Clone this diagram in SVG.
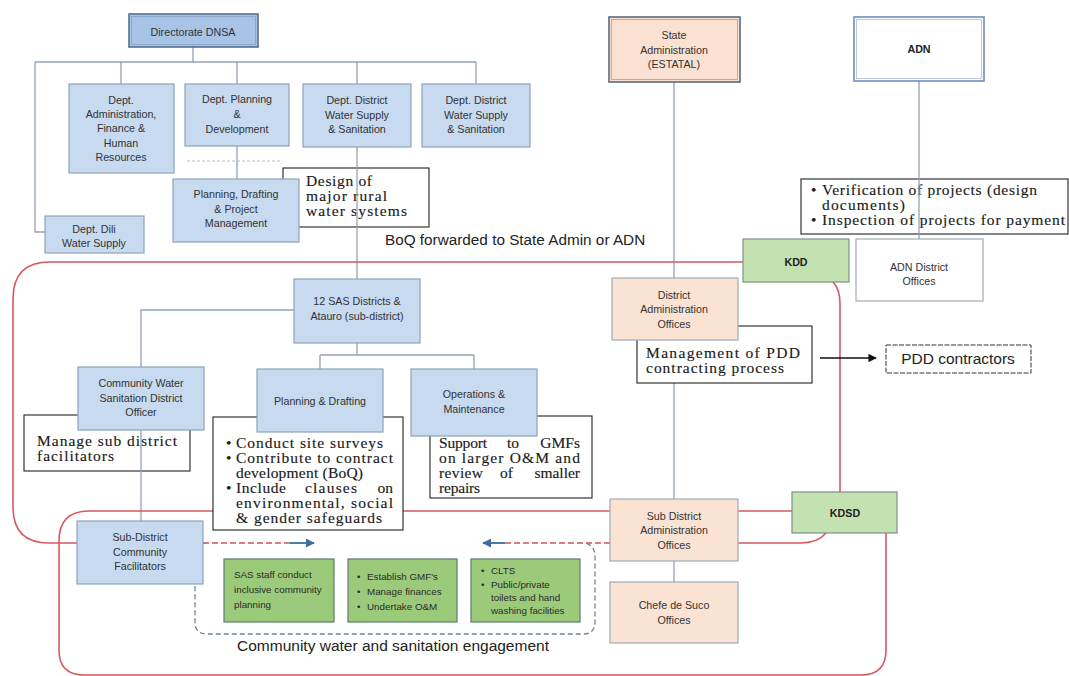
<svg xmlns="http://www.w3.org/2000/svg" width="1069" height="676" viewBox="0 0 1069 676">
  <defs>
    <style>
      .lbl { font-family: "Liberation Sans", Arial, sans-serif; font-size: 10.7px; fill: #333; text-anchor: middle; }
      .bold { font-weight: bold; fill: #222; }
      .sm { font-family: "Liberation Sans", Arial, sans-serif; font-size: 9.8px; fill: #2a2a2a; }
      .big { font-family: "Liberation Sans", Arial, sans-serif; font-size: 15.3px; fill: #222; }
      .serif { font-family: "Liberation Serif", "Times New Roman", serif; font-size: 15.5px; fill: #1a1a1a; stroke: #1a1a1a; stroke-width: 0.15; }
      .blue { fill: #c7daef; stroke: #8ea2b8; stroke-width: 1.2; }
      .peach { fill: #fbe3d4; stroke: #9eabb9; stroke-width: 1.2; }
      .kd { fill: #c4e1b1; stroke: #7f9089; stroke-width: 1.2; }
      .grn { fill: #9bcb7a; stroke: #5e7a6c; stroke-width: 1.2; }
      .white { fill: #fff; stroke: #a3abb3; stroke-width: 1.2; }
      .note { fill: #fff; stroke: #222; stroke-width: 1.1; }
      .conn { fill: none; stroke: #95a3b2; stroke-width: 1.3; }
      .red { fill: none; stroke: #d65a5e; stroke-width: 1.6; }
      .reddash { fill: none; stroke: #e07a7c; stroke-width: 1.8; stroke-dasharray: 6 3; }
      .arrowb { fill: none; stroke: #3b6ea6; stroke-width: 1.8; }
    </style>
    <marker id="tipBlue" viewBox="0 0 10 10" refX="9" refY="5" markerWidth="5" markerHeight="5" orient="auto">
      <path d="M0,0 L10,5 L0,10 z" fill="#3b6ea6"/>
    </marker>
    <marker id="tipBlack" viewBox="0 0 10 10" refX="9" refY="5" markerWidth="6" markerHeight="6" orient="auto">
      <path d="M0,0 L10,5 L0,10 z" fill="#111"/>
    </marker>
  </defs>

  <rect width="1069" height="676" fill="#fff"/>

  <!-- callout boxes sitting under the connector lines -->
  <g id="note-design">
    <rect class="note" x="283" y="168" width="146" height="59"/>
    <text class="serif" x="306" y="186" textLength="66" lengthAdjust="spacing">Design of</text>
    <text class="serif" x="306" y="201" textLength="81" lengthAdjust="spacing">major rural</text>
    <text class="serif" x="306" y="216" textLength="101" lengthAdjust="spacing">water systems</text>
  </g>
  <g id="note-manage">
    <rect class="note" x="24" y="415" width="166" height="56"/>
    <text class="serif" x="37" y="446" textLength="140" lengthAdjust="spacing">Manage sub district</text>
    <text class="serif" x="37" y="461" textLength="77" lengthAdjust="spacing">facilitators</text>
  </g>
  <g id="note-verification">
    <rect class="note" x="801" y="179" width="267" height="55"/>
    <text class="serif" x="811" y="195">•</text>
    <text class="serif" x="822" y="195" textLength="215" lengthAdjust="spacing">Verification of projects (design</text>
    <text class="serif" x="822" y="210" textLength="83" lengthAdjust="spacing">documents)</text>
    <text class="serif" x="811" y="225">•</text>
    <text class="serif" x="822" y="225" textLength="243" lengthAdjust="spacing">Inspection of projects for payment</text>
  </g>

  <!-- connectors -->
  <g id="connectors">
    <!-- DNSA hierarchy -->
    <path class="conn" d="M193,47 V62 M35,62 H476 M121,62 V84 M237,62 V84 M357,62 V84 M476,62 V84"/>
    <path class="conn" d="M35,62 V232 H45"/>
    <path class="conn" d="M237,146 V179"/>
    <path d="M187,161 H280" fill="none" stroke="#b8bfc6" stroke-width="1.2" stroke-dasharray="3 2"/>
    <path class="conn" d="M357,147 V279"/>
    <!-- district level -->
    <path class="conn" d="M294,310 H141 V367"/>
    <path class="conn" d="M357,343 V355 M320,355 H474 M320,355 V369 M474,355 V369"/>
    <path class="conn" d="M141,430 V521"/>
    <!-- administration line -->
    <path class="conn" d="M674,82 V278 M674,340 V499 M674,561 V582"/>
    <path class="conn" d="M919,81 V239"/>

    <!-- coordination loops -->
    <path class="red" d="M743,262 H50 Q13,262 13,299 V507 Q13,543 49,543 H77"/>
    <path class="red" d="M833,282 Q840,289 840,304 V492"/>
    <path class="red" d="M792,511 H738 M610,511 H89 Q59,511 59,541 V650 Q59,675 84,675 H861 Q886,675 886,650 V533"/>
    <path class="red" d="M738,543 H800 Q818,543 826,533"/>
    <path class="reddash" d="M203,543 H290 M505,543 H610"/>
    <path class="arrowb" d="M290,543 H314" marker-end="url(#tipBlue)"/>
    <path class="arrowb" d="M505,543 H483" marker-end="url(#tipBlue)"/>

    <!-- engagement boundary -->
    <path d="M205,543 Q195,545 195,557 V622 Q195,634 207,634 H583 Q595,634 595,622 V557 Q595,545 585,543" fill="none" stroke="#71839a" stroke-width="1.3" stroke-dasharray="5 3"/>

    <!-- contracting -->
    <path d="M820,358 H876" fill="none" stroke="#111" stroke-width="1.4" marker-end="url(#tipBlack)"/>
  </g>

  <text class="big" x="385" y="245">BoQ forwarded to State Admin or ADN</text>
  <text class="big" x="393" y="651" text-anchor="middle" style="font-size:15.5px">Community water and sanitation engagement</text>

  <!-- callout boxes drawn over lines -->
  <g id="note-planning">
    <rect class="note" x="213" y="417" width="190" height="113"/>
    <text class="serif" x="226" y="448">•</text>
    <text class="serif" x="236" y="448" textLength="147" lengthAdjust="spacing">Conduct site surveys</text>
    <text class="serif" x="226" y="463">•</text>
    <text class="serif" x="236" y="463" textLength="157" lengthAdjust="spacing">Contribute to contract</text>
    <text class="serif" x="236" y="478" textLength="127" lengthAdjust="spacing">development (BoQ)</text>
    <text class="serif" x="226" y="493">•</text>
    <text class="serif" x="236" y="493" textLength="50" lengthAdjust="spacing">Include</text>
    <text class="serif" x="305" y="493" textLength="52" lengthAdjust="spacing">clauses</text>
    <text class="serif" x="393" y="493" text-anchor="end">on</text>
    <text class="serif" x="236" y="508" textLength="157" lengthAdjust="spacing">environmental, social</text>
    <text class="serif" x="236" y="523" textLength="146" lengthAdjust="spacing">&amp; gender safeguards</text>
  </g>
  <g id="note-om">
    <rect class="note" x="430" y="416" width="162" height="82"/>
    <text class="serif" x="439" y="448" textLength="48" lengthAdjust="spacing">Support</text>
    <text class="serif" x="507" y="448">to</text>
    <text class="serif" x="580" y="448" text-anchor="end">GMFs</text>
    <text class="serif" x="439" y="463" textLength="141" lengthAdjust="spacing">on larger O&amp;M and</text>
    <text class="serif" x="439" y="478" textLength="44" lengthAdjust="spacing">review</text>
    <text class="serif" x="500" y="478">of</text>
    <text class="serif" x="580" y="478" text-anchor="end">smaller</text>
    <text class="serif" x="439" y="493" textLength="41" lengthAdjust="spacing">repairs</text>
  </g>
  <g id="note-management">
    <rect class="note" x="637" y="326" width="175" height="57"/>
    <text class="serif" x="646" y="358" textLength="154" lengthAdjust="spacing">Management of PDD</text>
    <text class="serif" x="646" y="373" textLength="138" lengthAdjust="spacing">contracting process</text>
  </g>
  <g id="pdd-contractors">
    <rect x="886" y="345" width="145" height="28" fill="#fff" stroke="#333" stroke-width="1" stroke-dasharray="5 1.5"/>
    <text class="big" x="958" y="364" text-anchor="middle" style="font-size:15.5px">PDD contractors</text>
  </g>

  <!-- DNSA structure -->
  <g id="dnsa">
    <rect x="129" y="14" width="129" height="33" fill="#a7c3e5" stroke="#55708f" stroke-width="1.6"/>
    <rect x="131.5" y="16.5" width="124" height="28" fill="none" stroke="#86a3c6" stroke-width="0.8"/>
    <text class="lbl" x="193" y="36">Directorate DNSA</text>
  </g>
  <g id="dept-admin">
    <rect class="blue" x="69" y="84" width="105" height="89"/>
    <text class="lbl" x="121" y="104">Dept.</text>
    <text class="lbl" x="121" y="118">Administration,</text>
    <text class="lbl" x="121" y="132">Finance &amp;</text>
    <text class="lbl" x="121" y="147">Human</text>
    <text class="lbl" x="121" y="161">Resources</text>
  </g>
  <g id="dept-planning">
    <rect class="blue" x="185" y="84" width="104" height="62"/>
    <text class="lbl" x="237" y="103">Dept. Planning</text>
    <text class="lbl" x="237" y="118">&amp;</text>
    <text class="lbl" x="237" y="133">Development</text>
  </g>
  <g id="dept-district-1">
    <rect class="blue" x="303" y="84" width="108" height="63"/>
    <text class="lbl" x="357" y="104">Dept. District</text>
    <text class="lbl" x="357" y="119">Water Supply</text>
    <text class="lbl" x="357" y="133">&amp; Sanitation</text>
  </g>
  <g id="dept-district-2">
    <rect class="blue" x="422" y="84" width="108" height="63"/>
    <text class="lbl" x="476" y="104">Dept. District</text>
    <text class="lbl" x="476" y="119">Water Supply</text>
    <text class="lbl" x="476" y="133">&amp; Sanitation</text>
  </g>
  <g id="planning-drafting-pm">
    <rect class="blue" x="173" y="179" width="126" height="63"/>
    <text class="lbl" x="236" y="198">Planning, Drafting</text>
    <text class="lbl" x="236" y="213">&amp; Project</text>
    <text class="lbl" x="236" y="227">Management</text>
  </g>
  <g id="dept-dili">
    <rect class="blue" x="45" y="216" width="99" height="37"/>
    <text class="lbl" x="94" y="233">Dept. Dili</text>
    <text class="lbl" x="94" y="247">Water Supply</text>
  </g>

  <!-- district level -->
  <g id="sas-districts">
    <rect class="blue" x="294" y="279" width="126" height="64"/>
    <text class="lbl" x="357" y="305">12 SAS Districts &amp;</text>
    <text class="lbl" x="357" y="320">Atauro (sub-district)</text>
  </g>
  <g id="cwsdo">
    <rect class="blue" x="78" y="367" width="126" height="63"/>
    <text class="lbl" x="141" y="387">Community Water</text>
    <text class="lbl" x="141" y="402">Sanitation District</text>
    <text class="lbl" x="141" y="416">Officer</text>
  </g>
  <g id="planning-drafting">
    <rect class="blue" x="257" y="369" width="126" height="63"/>
    <text class="lbl" x="320" y="405">Planning &amp; Drafting</text>
  </g>
  <g id="operations-maintenance">
    <rect class="blue" x="411" y="369" width="126" height="67"/>
    <text class="lbl" x="474" y="398">Operations &amp;</text>
    <text class="lbl" x="474" y="413">Maintenance</text>
  </g>
  <g id="sub-district-facilitators">
    <rect class="blue" x="77" y="521" width="126" height="63"/>
    <text class="lbl" x="140" y="541">Sub-District</text>
    <text class="lbl" x="140" y="556">Community</text>
    <text class="lbl" x="140" y="570">Facilitators</text>
  </g>

  <!-- community engagement activities -->
  <g id="activity-planning">
    <rect class="grn" x="224" y="559" width="110" height="63"/>
    <text class="sm" x="234" y="578">SAS staff conduct</text>
    <text class="sm" x="234" y="593">inclusive community</text>
    <text class="sm" x="234" y="608">planning</text>
  </g>
  <g id="activity-gmf">
    <rect class="grn" x="348" y="559" width="109" height="63"/>
    <text class="sm" x="357" y="580">•</text><text class="sm" x="367" y="580">Establish GMF's</text>
    <text class="sm" x="357" y="595">•</text><text class="sm" x="367" y="595">Manage finances</text>
    <text class="sm" x="357" y="610">•</text><text class="sm" x="367" y="610">Undertake O&amp;M</text>
  </g>
  <g id="activity-sanitation">
    <rect class="grn" x="471" y="559" width="109" height="63"/>
    <text class="sm" x="481" y="574">•</text><text class="sm" x="491" y="574">CLTS</text>
    <text class="sm" x="481" y="588">•</text><text class="sm" x="491" y="588">Public/private</text>
    <text class="sm" x="491" y="601">toilets and hand</text>
    <text class="sm" x="491" y="614">washing facilities</text>
  </g>

  <!-- state administration -->
  <g id="state-admin">
    <rect x="609" y="17" width="131" height="65" fill="#fbe1d1" stroke="#5c6a7c" stroke-width="1.6"/>
    <rect x="611.5" y="19.5" width="126" height="60" fill="none" stroke="#97a6b7" stroke-width="0.8"/>
    <text class="lbl" x="674" y="39">State</text>
    <text class="lbl" x="674" y="54">Administration</text>
    <text class="lbl" x="674" y="68">(ESTATAL)</text>
  </g>
  <g id="district-admin">
    <rect class="peach" x="612" y="278" width="126" height="62"/>
    <text class="lbl" x="674" y="299">District</text>
    <text class="lbl" x="674" y="313">Administration</text>
    <text class="lbl" x="674" y="328">Offices</text>
  </g>
  <g id="sub-district-admin">
    <rect class="peach" x="610" y="499" width="128" height="62"/>
    <text class="lbl" x="674" y="520">Sub District</text>
    <text class="lbl" x="674" y="534">Administration</text>
    <text class="lbl" x="674" y="549">Offices</text>
  </g>
  <g id="chefe-de-suco">
    <rect class="peach" x="610" y="582" width="128" height="61"/>
    <text class="lbl" x="674" y="609">Chefe de Suco</text>
    <text class="lbl" x="674" y="624">Offices</text>
  </g>

  <!-- ADN -->
  <g id="adn">
    <rect x="854" y="17" width="130" height="64" fill="#fff" stroke="#6e8ebd" stroke-width="1.6"/>
    <rect x="856.5" y="19.5" width="125" height="59" fill="none" stroke="#a9bcd8" stroke-width="0.8"/>
    <text class="lbl bold" x="919" y="53">ADN</text>
  </g>
  <g id="adn-district">
    <rect class="white" x="856" y="239" width="127" height="62"/>
    <text class="lbl" x="919" y="271">ADN District</text>
    <text class="lbl" x="919" y="285">Offices</text>
  </g>

  <!-- development committees -->
  <g id="kdd">
    <rect class="kd" x="743" y="239" width="106" height="43"/>
    <text class="lbl bold" x="796" y="266">KDD</text>
  </g>
  <g id="kdsd">
    <rect class="kd" x="792" y="492" width="105" height="41"/>
    <text class="lbl bold" x="845" y="517">KDSD</text>
  </g>
</svg>
